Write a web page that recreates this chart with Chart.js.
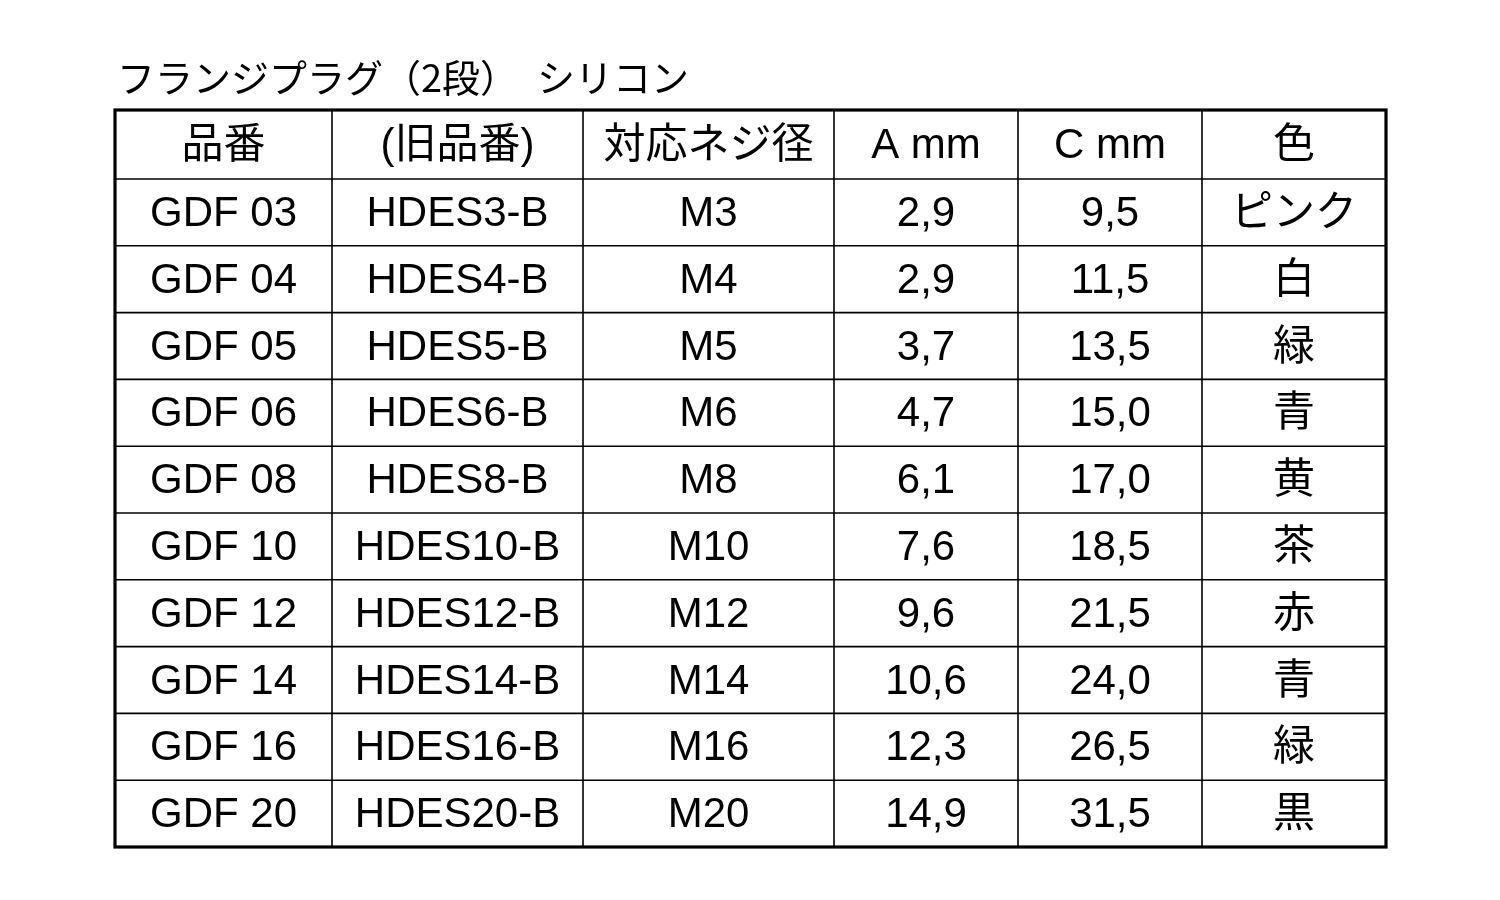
<!DOCTYPE html>
<html><head><meta charset="utf-8">
<script src="https://cdn.jsdelivr.net/npm/chart.js@4"></script>
<style>html,body{margin:0;background:#fff}#w{width:1500px;height:900px}</style>
</head><body><div id="w"><canvas id="c"></canvas></div>
<script>
const title = "フランジプラグ（2段）　シリコン";
const headers = ["品番","(旧品番)","対応ネジ径","A mm","C mm","色"];
const partNo = ["GDF 03","GDF 04","GDF 05","GDF 06","GDF 08","GDF 10","GDF 12","GDF 14","GDF 16","GDF 20"];
const oldNo = ["HDES3-B","HDES4-B","HDES5-B","HDES6-B","HDES8-B","HDES10-B","HDES12-B","HDES14-B","HDES16-B","HDES20-B"];
const thread = ["M3","M4","M5","M6","M8","M10","M12","M14","M16","M20"];
const aMm = ["2,9","2,9","3,7","4,7","6,1","7,6","9,6","10,6","12,3","14,9"];
const cMm = ["9,5","11,5","13,5","15,0","17,0","18,5","21,5","24,0","26,5","31,5"];
const colour = ["ピンク","白","緑","青","黄","茶","赤","青","緑","黒"];
const colWidths = [217,251,251,184,184,184];
const rowHeights = [69,66.8,66.8,66.8,66.8,66.8,66.8,66.8,66.8,66.8,66.8];

const columns = [partNo, oldNo, thread, aMm, cMm, colour];
const colEdges = [0]; colWidths.forEach(w=>colEdges.push(colEdges[colEdges.length-1]+w));
const rowEdges = [0]; rowHeights.forEach(h=>rowEdges.push(rowEdges[rowEdges.length-1]+h));
const FONT = '"Liberation Sans", Arial, "Noto Sans CJK JP", sans-serif';

const tablePlugin = {
  id:'table',
  afterDraw(chart){
    const {ctx, scales:{x,y}} = chart;
    ctx.save();
    ctx.fillStyle='#000';
    ctx.font = '38px "Noto Sans CJK JP", sans-serif';
    ctx.textBaseline='middle'; ctx.textAlign='left';
    ctx.fillText(title, x.getPixelForValue(0)+2, y.getPixelForValue(0)-32);
    ctx.strokeStyle='#000';
    ctx.lineWidth=1.6;
    for(let i=1;i<colEdges.length-1;i++){
      const px=x.getPixelForValue(colEdges[i]);
      ctx.beginPath();ctx.moveTo(px,y.getPixelForValue(0));ctx.lineTo(px,y.getPixelForValue(rowEdges[rowEdges.length-1]));ctx.stroke();
    }
    for(let j=1;j<rowEdges.length-1;j++){
      const py=y.getPixelForValue(rowEdges[j]);
      ctx.beginPath();ctx.moveTo(x.getPixelForValue(0),py);ctx.lineTo(x.getPixelForValue(colEdges[colEdges.length-1]),py);ctx.stroke();
    }
    ctx.lineWidth=3.2;
    const l=x.getPixelForValue(0), r=x.getPixelForValue(colEdges[colEdges.length-1]);
    const t=y.getPixelForValue(0), b=y.getPixelForValue(rowEdges[rowEdges.length-1]);
    ctx.strokeRect(l,t,r-l,b-t);
    ctx.textAlign='center';
    for(let c=0;c<6;c++){
      const cx=x.getPixelForValue((colEdges[c]+colEdges[c+1])/2);
      ctx.font='42px '+FONT;
      ctx.fillText(headers[c], cx, y.getPixelForValue((rowEdges[0]+rowEdges[1])/2)+2);
      for(let r2=0;r2<columns[c].length;r2++){
        ctx.fillText(columns[c][r2], cx, y.getPixelForValue((rowEdges[r2+1]+rowEdges[r2+2])/2)+2);
      }
    }
    ctx.restore();
  }
};

new Chart(document.getElementById('c'),{
  type:'scatter',
  data:{datasets:[{data:[],pointRadius:0}]},
  options:{
    responsive:true, maintainAspectRatio:false, animation:false,
    layout:{padding:{left:115,right:114,top:110,bottom:53}},
    plugins:{legend:{display:false},tooltip:{enabled:false},title:{display:false}},
    scales:{
      x:{type:'linear',min:0,max:colEdges[colEdges.length-1],display:false},
      y:{type:'linear',min:0,max:rowEdges[rowEdges.length-1],reverse:true,display:false}
    }
  },
  plugins:[tablePlugin]
});
</script></body></html>
